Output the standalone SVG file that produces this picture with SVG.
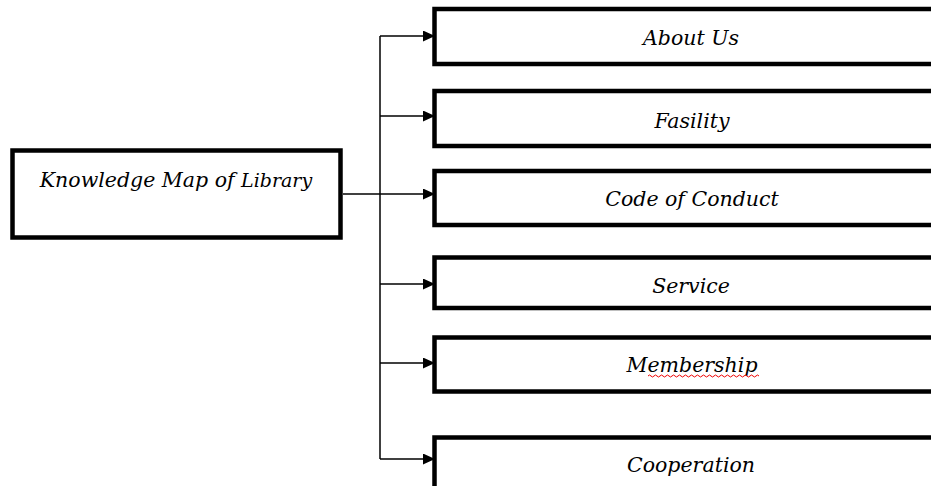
<svg xmlns="http://www.w3.org/2000/svg" width="931" height="486" viewBox="0 0 931 486">
<defs>
<style>
.box{fill:#fff;stroke:#000;stroke-width:4.5}
.lbl{font-family:"DejaVu Serif","Liberation Serif",serif;font-style:italic;font-size:20.5px;fill:#000;text-anchor:middle}
.conn{fill:none;stroke:#000;stroke-width:1.5}
</style>
<marker id="arr" viewBox="0 0 12 11" refX="12" refY="5.5" markerWidth="12" markerHeight="11" markerUnits="userSpaceOnUse" orient="auto">
<path d="M0,0 L12,5.5 L0,11 Z" fill="#000"/>
</marker>
</defs>
<rect width="931" height="486" fill="#fff"/>
<g id="connectors">
<line class="conn" x1="343" y1="194" x2="380" y2="194"/>
<line class="conn" x1="380" y1="36" x2="380" y2="459"/>
<line class="conn" x1="380" y1="36" x2="435" y2="36" marker-end="url(#arr)"/>
<line class="conn" x1="380" y1="116" x2="435" y2="116" marker-end="url(#arr)"/>
<line class="conn" x1="380" y1="194" x2="435" y2="194" marker-end="url(#arr)"/>
<line class="conn" x1="380" y1="284" x2="435" y2="284" marker-end="url(#arr)"/>
<line class="conn" x1="380" y1="363" x2="435" y2="363" marker-end="url(#arr)"/>
<line class="conn" x1="380" y1="459" x2="435" y2="459" marker-end="url(#arr)"/>
</g>
<g id="root">
<rect class="box" x="12.5" y="150.5" width="328" height="87"/>
<text class="lbl" x="176" y="187" font-size="21.2">Knowledge Map of <tspan font-size="19">Library</tspan></text>
</g>
<g id="about">
<rect class="box" x="434.5" y="9" width="520" height="55"/>
<text class="lbl" x="691" y="45">About Us</text>
</g>
<g id="fasility">
<rect class="box" x="434.5" y="91" width="520" height="55"/>
<text class="lbl" x="692" y="128">Fasility</text>
</g>
<g id="code">
<rect class="box" x="434.5" y="171" width="520" height="54"/>
<text class="lbl" x="692" y="206">Code of Conduct</text>
</g>
<g id="service">
<rect class="box" x="434.5" y="257.5" width="520" height="50.5"/>
<text class="lbl" x="691" y="293">Service</text>
</g>
<g id="membership">
<rect class="box" x="434.5" y="337.5" width="520" height="54"/>
<text class="lbl" x="692" y="372">Membership</text>
<path d="M648,376 q1.5,-2 3,0 t3,0 t3,0 t3,0 t3,0 t3,0 t3,0 t3,0 t3,0 t3,0 t3,0 t3,0 t3,0 t3,0 t3,0 t3,0 t3,0 t3,0 t3,0 t3,0 t3,0 t3,0 t3,0 t3,0 t3,0 t3,0 t3,0 t3,0 t3,0 t3,0 t3,0 t3,0 t3,0 t3,0 t3,0 t3,0 t3,0" fill="none" stroke="#e00" stroke-width="1"/>
</g>
<g id="cooperation">
<rect class="box" x="434.5" y="437.5" width="520" height="54"/>
<text class="lbl" x="691" y="472">Cooperation</text>
</g>
</svg>
